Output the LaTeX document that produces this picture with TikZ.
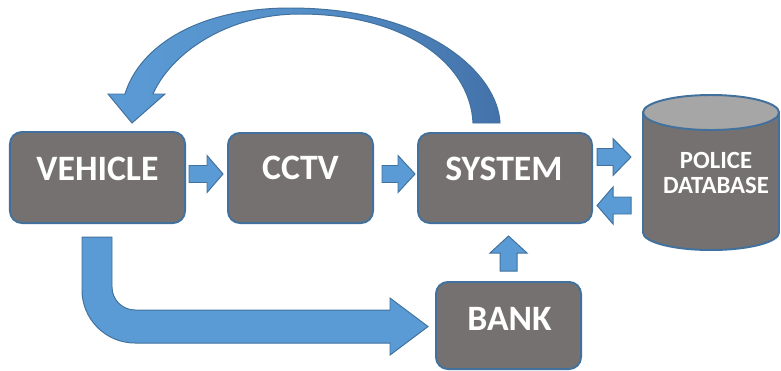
\documentclass[tikz,border=0pt]{standalone}
\usepackage{fontspec}
\setmainfont{Carlito}
\usetikzlibrary{calc}

\definecolor{boxgray}{RGB}{118,113,113}
\definecolor{edgeblue}{RGB}{65,113,156}
\definecolor{arrowblue}{RGB}{91,155,213}
\definecolor{arrowdark}{RGB}{68,114,170}
\definecolor{lidgray}{RGB}{166,166,166}

% horizontal block arrow: tail x, head-base x, tip x, centre y
\newcommand{\hblockarrow}[4]{%
  \draw[blockarrow] (#1,#4-8.5) -- (#2,#4-8.5) -- (#2,#4-18.5) -- (#3,#4)
    -- (#2,#4+18.5) -- (#2,#4+8.5) -- (#1,#4+8.5) -- cycle;}

\begin{document}
\begin{tikzpicture}[x=0.025cm, y=-0.025cm,
  box/.style={draw=edgeblue, line width=1.4pt, fill=boxgray,
              rounded corners=8.5pt, inner sep=0pt},
  lbl/.style={text=white, inner sep=0pt,
              font=\fontsize{25.4}{30}\selectfont\bfseries},
  dblbl/.style={text=white, inner sep=0pt, align=center,
                font=\fontsize{17.6}{17.8}\selectfont\bfseries},
  blockarrow/.style={draw=edgeblue, line width=0.7pt, fill=arrowblue,
                     line join=miter}]
\useasboundingbox (0,0) rectangle (781,370);

% boxes
\node[box, minimum width=4.375cm, minimum height=2.275cm] (veh)  at (97.5,177.5) {};
\node[box, minimum width=3.625cm, minimum height=2.25cm]  (cctv) at (300.5,178) {};
\node[box, minimum width=4.35cm,  minimum height=2.25cm]  (sys)  at (505,178) {};
\node[box, minimum width=3.625cm, minimum height=2.175cm] (bank) at (508.5,325.5) {};

\node[lbl] (vehtext)  at (97.5,168.5) {VEHICLE};
\node[lbl] (cctvtext) at (300.5,168)  {CCTV};
\node[lbl] (systext)  at (504,168.5)  {SYSTEM};
\node[lbl] (banktext) at (509.5,318.5) {BANK};

% police database cylinder
\draw[draw=edgeblue, line width=1.4pt, fill=boxgray]
  (643,112.5) -- (643,232.5)
  arc[start angle=180, end angle=0, x radius=68, y radius=17.5]
  -- (779,112.5) -- cycle;
\draw[draw=edgeblue, line width=1.4pt, fill=lidgray]
  (711,112.5) ellipse[x radius=68, y radius=17.5];
\coordinate (db) at (716,173);
\node[dblbl] (dbtext) at (db) {POLICE\\DATABASE};

% straight block arrows
\hblockarrow{189}{207}{223}{174}
\hblockarrow{382}{398}{415}{174}
\hblockarrow{597}{613}{631}{157}
\hblockarrow{631}{613}{597}{205.5}
\draw[blockarrow] (500,271) -- (500,253) -- (490,253) -- (508.5,236)
  -- (527,253) -- (517,253) -- (517,271) -- cycle;

% bent arrow from vehicle to bank
\draw[blockarrow] (82,237) -- (112,237) -- (112,287)
  arc[start angle=180, end angle=90, radius=23]
  -- (390,310) -- (390,298) -- (428,326.5) -- (390,355) -- (390,343)
  -- (135,343) arc[start angle=90, end angle=180, radius=53] -- cycle;

% curved arrow from system back to vehicle
\draw[draw=edgeblue, line width=0.7pt, line join=miter,
      left color=arrowblue, right color=arrowdark,
      middle color=arrowblue!70!arrowdark]
  (500,123) .. controls (498,75) and (430,8) .. (290,8)
  .. controls (200,8) and (140,45) .. (125,94)
  -- (108,94) -- (132,123) -- (165,94) -- (153,94)
  .. controls (170,55) and (225,14) .. (300,14)
  .. controls (400,14) and (470,60) .. (473,123) -- cycle;
\end{tikzpicture}
\end{document}
